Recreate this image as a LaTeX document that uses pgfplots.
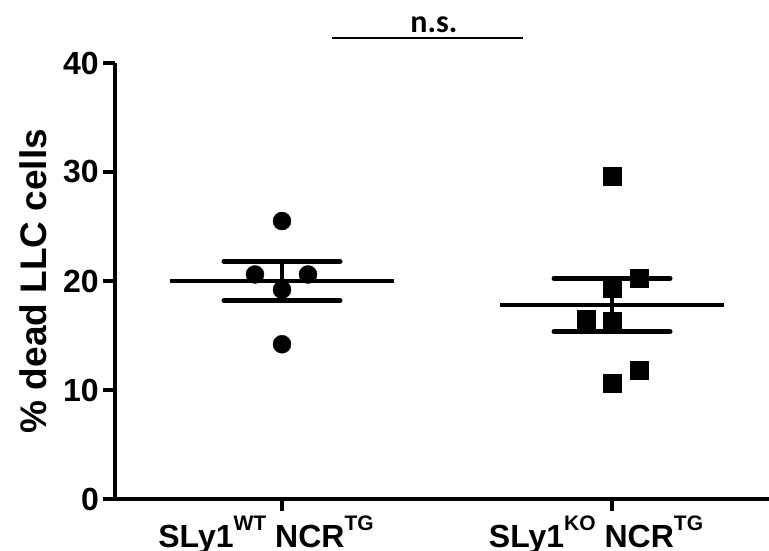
\documentclass[border=0pt]{standalone}
\usepackage{fontspec}
\setmainfont{Liberation Sans}
\newfontfamily\calibri{Carlito}
\usepackage{pgfplots}
\pgfplotsset{compat=1.18}

\newcommand{\sups}[1]{\raisebox{17pt}{\fontsize{21}{21}\selectfont #1}}

\begin{document}
\begin{tikzpicture}
\useasboundingbox (0,0) rectangle (769pt,551pt);
\begin{axis}[
  at={(115pt,52pt)}, anchor=south west,
  scale only axis, width=654pt, height=436pt,
  xmin=115, xmax=769, ymin=0, ymax=40,
  axis lines=left,
  axis line style={-, line width=3.5pt},
  clip=false,
  ytick={0,10,20,30,40},
  xtick={282,612},
  xticklabels={{SLy1\sups{WT} NCR\sups{TG}},{SLy1\sups{KO} NCR\sups{TG}}},
  tick align=outside,
  major tick length=12pt,
  tick style={line width=3.5pt, black},
  /pgf/number format/assume math mode=true,
  tick label style={font=\bfseries\fontsize{32}{32}\selectfont, inner sep=1pt},
  yticklabel style={xshift=-3pt},
  xticklabel style={anchor=base, inner sep=0pt, xshift=-16pt, yshift=-37pt},
  ylabel={\% dead LLC cells},
  every axis y label/.style={at={(axis description cs:-0.1055,0.5)}, rotate=90, anchor=base, font=\bfseries\fontsize{37}{37}\selectfont},
]
% SLy1 WT: mean and SEM
\addplot[line width=3.5pt] coordinates {(170,20.02) (394,20.02)};
\addplot[line width=5pt, line cap=round] coordinates {(224,21.8) (340,21.8)};
\addplot[line width=5pt, line cap=round] coordinates {(224,18.2) (340,18.2)};
\addplot[line width=4pt] coordinates {(282,18.2) (282,21.8)};
\addplot[only marks, mark=*, mark size=9pt, black] coordinates {
  (282,25.5) (255,20.6) (308,20.6) (282,19.2) (282,14.2)
};
% SLy1 KO: mean and SEM
\addplot[line width=3.5pt] coordinates {(500,17.8) (724,17.8)};
\addplot[line width=5pt, line cap=round] coordinates {(554,20.25) (670,20.25)};
\addplot[line width=5pt, line cap=round] coordinates {(554,15.35) (670,15.35)};
\addplot[line width=4pt] coordinates {(612,15.35) (612,20.25)};
\addplot[only marks, mark=square*, mark size=9pt, black] coordinates {
  (612,29.6) (639,20.25) (612,19.35) (586,16.5) (612,16.3) (639,11.85) (612,10.6)
};
% significance bracket
\draw[line width=2.5pt] (axis cs:332,42.29) -- (axis cs:523,42.29);
\node[anchor=base, font=\calibri\bfseries\fontsize{32}{32}\selectfont] at (axis cs:434,42.84) {n.s.};
\end{axis}
\end{tikzpicture}
\end{document}
